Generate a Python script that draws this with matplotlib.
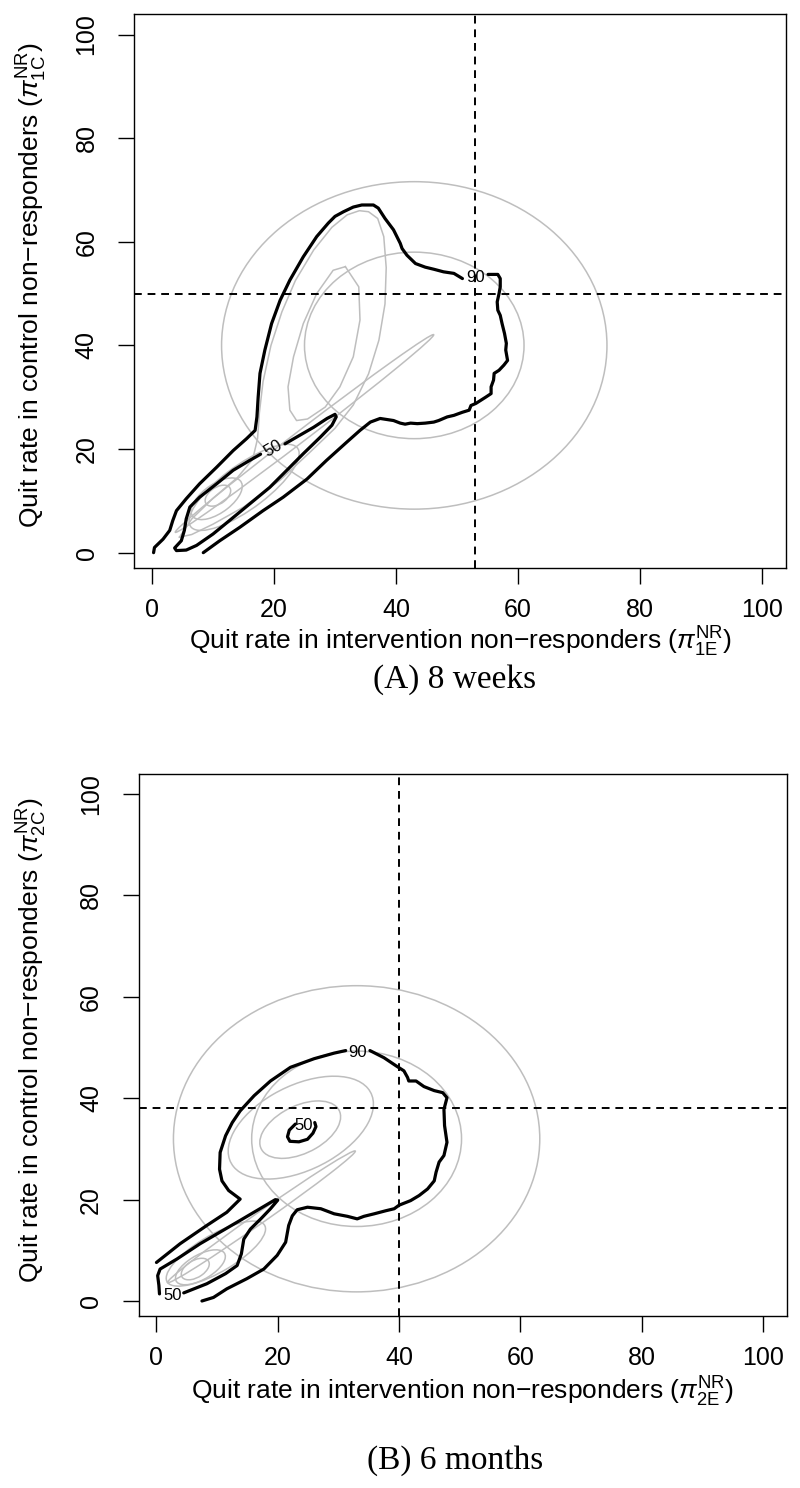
import numpy as np
import matplotlib.pyplot as plt
from matplotlib.patches import Ellipse

plt.rcParams['font.family'] = ['Liberation Sans', 'DejaVu Sans']
plt.rcParams['mathtext.fontset'] = 'custom'
plt.rcParams['mathtext.rm'] = 'Liberation Sans'
plt.rcParams['mathtext.it'] = 'Liberation Sans:italic'

# ---------------- panel A: 8 weeks ----------------
a_ref_x = 53
a_ref_y = 50

# 90% contour, split at its label
a90_1 = [(0.25, 0.0), (0.4, 1.0), (1.8, 2.6), (2.9, 4.3), (3.4, 6.2), (4.0, 8.1),
         (5.6, 10.4), (7.8, 13.3), (10.6, 16.5), (13.3, 19.7), (15.5, 22.0),
         (16.9, 23.6), (17.2, 26.2), (17.4, 30.0), (17.7, 34.6), (18.5, 39.1),
         (19.6, 44.2), (21.0, 48.7), (22.6, 52.6), (24.8, 57.1), (27.0, 61.0),
         (28.9, 63.6), (30.0, 64.9), (31.4, 65.8), (33.0, 66.7), (34.4, 67.1),
         (36.3, 67.1), (37.1, 66.5), (38.2, 64.5), (39.6, 62.3), (40.7, 59.7),
         (41.0, 58.7), (41.8, 57.4), (43.2, 55.8), (44.8, 55.1), (46.2, 54.7),
         (47.8, 54.2), (49.5, 53.9), (50.9, 52.9)]
a90_2 = [(55.1, 53.7), (56.7, 53.7), (57.1, 52.9), (57.1, 51.3), (56.9, 50.0),
         (56.6, 48.4), (56.7, 46.8), (57.1, 45.8), (57.4, 44.2), (57.8, 42.3),
         (58.1, 40.4), (58.0, 39.1), (58.3, 37.1), (57.7, 36.2), (56.9, 35.2),
         (56.1, 34.6), (56.0, 33.3), (55.6, 32.0), (55.6, 30.7), (54.7, 30.0),
         (53.9, 29.4), (53.1, 28.8), (52.3, 28.4), (52.0, 27.5), (50.9, 27.1),
         (49.5, 26.5), (48.4, 26.2), (47.0, 25.5), (46.2, 25.2), (44.8, 25.0),
         (43.5, 24.9), (42.4, 25.0), (41.5, 24.8), (40.7, 25.0), (39.6, 25.5),
         (37.4, 25.9), (35.8, 25.2), (34.1, 23.6), (31.9, 21.3), (28.6, 17.8),
         (25.4, 14.2), (21.5, 10.7), (18.2, 8.1), (14.4, 4.9), (11.1, 2.3),
         (8.4, 0.0)]
# 50% contour, split at its label
a50_1 = [(21.8, 21.0), (23.7, 22.3), (26.5, 24.2), (28.7, 25.9), (30.0, 26.7),
         (30.2, 26.2), (29.5, 24.6), (27.6, 22.3), (24.8, 19.1), (22.1, 15.9),
         (19.3, 12.6), (16.0, 9.4), (12.7, 6.2), (10.0, 3.6), (7.3, 1.4),
         (5.6, 0.5), (4.0, 0.4), (3.7, 0.9), (4.8, 2.3), (5.3, 4.3), (5.6, 6.5),
         (6.2, 8.8), (7.8, 10.7), (10.6, 13.3), (13.3, 15.9), (16.0, 17.8),
         (17.8, 19.0)]
a_labels = [("90", 53.0, 53.1, 0), ("50", 19.9, 20.1, 30)]

# grey reference contours
a_circle_xy = (43, 40)
a_circle_r = [31.6, 18.0]
a_tear = [(4.5, 3.0), (6.5, 6.5), (10.0, 10.5), (14.0, 14.5), (16.5, 18.0),
          (17.3, 22.0), (17.6, 27.0), (18.2, 33.0), (19.5, 40.0), (21.3, 46.5),
          (23.5, 52.5), (26.5, 58.4), (29.5, 62.8), (32.0, 65.2), (34.0, 66.0),
          (35.5, 65.8), (37.0, 64.5), (38.0, 61.0), (38.4, 55.0), (38.2, 48.0),
          (37.2, 41.0), (35.5, 34.5), (33.0, 28.5), (30.0, 24.0), (26.0, 19.5),
          (21.0, 14.0), (15.0, 8.8), (10.0, 5.5), (6.5, 3.5), (4.5, 3.0)]
a_inner = [(31.7, 55.2), (33.9, 51.3), (34.1, 44.9), (33.0, 37.8), (30.8, 32.0),
           (28.4, 28.1), (25.5, 25.8), (23.7, 25.5), (22.6, 27.5), (22.3, 32.0),
           (23.2, 37.8), (24.8, 44.2), (27.0, 50.0), (29.7, 54.5), (31.7, 55.2)]
# centre x, centre y, semi-major, semi-minor, angle
a_ell = [(25.0, 23.0, 28.5, 1.0, 42), (15.1, 12.6, 11.6, 4.0, 42),
         (10.6, 10.4, 5.2, 2.6, 43), (10.8, 11.0, 2.5, 1.5, 43)]

# ---------------- panel B: 6 months ----------------
b_ref_x = 40
b_ref_y = 38

b90_1 = [(0.0, 7.6), (3.9, 11.3), (8.3, 14.9), (11.6, 17.5), (13.8, 20.1),
         (11.9, 21.8), (10.8, 23.7), (10.4, 26.0), (10.5, 29.3), (11.4, 32.6),
         (12.5, 35.2), (13.8, 37.5), (16.1, 40.5), (18.8, 43.4), (22.1, 46.1),
         (26.0, 47.8), (29.3, 48.9), (31.2, 49.4)]
b90_2 = [(35.2, 49.4), (37.5, 48.0), (39.5, 46.4), (40.8, 45.4), (41.4, 44.1),
         (41.6, 43.4), (42.8, 43.4), (44.1, 42.3), (45.8, 41.5), (47.2, 41.1),
         (47.9, 40.1), (47.4, 37.8), (47.5, 34.6), (47.9, 31.3), (47.4, 28.7),
         (46.6, 27.4), (46.1, 25.4), (45.8, 23.7), (44.7, 22.1), (43.3, 20.8),
         (41.9, 19.8), (40.0, 18.9), (39.2, 18.2), (37.8, 17.8), (35.9, 17.2),
         (34.2, 16.7), (33.1, 16.2), (31.5, 16.7), (29.3, 17.2), (27.1, 18.2),
         (24.9, 18.5), (23.2, 18.0), (22.4, 16.8), (21.8, 14.9), (21.3, 11.6),
         (19.9, 9.0), (17.7, 6.3), (14.9, 4.4), (11.6, 2.4), (9.4, 0.7),
         (7.5, 0.0)]
b50_1 = [(4.5, 1.6), (8.3, 3.4), (11.4, 5.4), (13.3, 7.0), (14.0, 9.3),
         (14.4, 12.2), (15.5, 14.2), (17.2, 16.2), (18.8, 18.2), (20.0, 19.9),
         (19.6, 20.0), (17.2, 18.3), (13.8, 15.9), (10.5, 13.6), (7.2, 11.3),
         (3.4, 8.3), (0.6, 6.3), (0.2, 5.0), (0.4, 3.1), (0.5, 1.4)]
b50_2 = [(22.9, 34.9), (21.9, 33.7), (21.6, 32.4), (22.0, 31.5), (23.5, 31.4),
         (24.9, 31.9), (25.8, 33.1), (26.3, 34.4), (26.1, 35.2)]
b_labels = [("90", 33.2, 49.1, 0), ("50", 24.3, 34.7, 0), ("50", 2.6, 1.1, 0)]

b_circle_xy = (33, 32)
b_circle_r = [30.2, 17.3]
b_ell = [(23.8, 34.2, 13.5, 8.0, 35), (23.7, 33.8, 7.5, 4.5, 35),
         (17.3, 16.6, 20.2, 1.0, 40), (9.8, 9.35, 9.8, 3.5, 36),
         (7.25, 6.65, 4.85, 2.3, 37), (6.4, 6.3, 2.7, 1.6, 40)]

lims = (-2.96, 103.96)
ticks = [0, 20, 40, 60, 80, 100]
grey = '#bebebe'

fig = plt.figure(figsize=(8, 14.88), dpi=100)


def panel(rect, black, tear, inner, cxy, radii, ells, labels, rx, ry):
    ax = fig.add_axes(rect)
    for r in radii:
        ax.add_patch(Ellipse(cxy, 2 * r, 2 * r, fill=False, ec=grey, lw=1.1))
    for cx, cy, a, b, ang in ells:
        ax.add_patch(Ellipse((cx, cy), 2 * a, 2 * b, angle=ang, fill=False,
                             ec=grey, lw=1.1))
    for pts in (tear, inner):
        if pts:
            p = np.array(pts)
            ax.plot(p[:, 0], p[:, 1], color=grey, lw=1.1)
    for pts in black:
        p = np.array(pts)
        ax.plot(p[:, 0], p[:, 1], color='black', lw=2.3,
                solid_joinstyle='round', solid_capstyle='round')
    for txt, x, y, rot in labels:
        ax.text(x, y, txt, fontsize=12, ha='center', va='center', rotation=rot)
    ax.axvline(rx, color='black', lw=1.4, ls=(0, (4, 3)))
    ax.axhline(ry, color='black', lw=1.4, ls=(0, (4, 3)))
    ax.set_xlim(lims)
    ax.set_ylim(lims)
    ax.set_xticks(ticks)
    ax.set_yticks(ticks)
    ax.tick_params(direction='out', length=11.5, width=1, labelsize=18)
    ax.tick_params(axis='x', pad=10)
    ax.tick_params(axis='y', pad=14)
    for lab in ax.get_yticklabels():
        lab.set_rotation(90)
        lab.set_va('center')
    for s in ax.spines.values():
        s.set_linewidth(1.0)
    return ax


W, H = 800.0, 1488.0
axA = panel([134 / W, 1 - 568 / H, 652 / W, 554 / H],
            [a90_1, a90_2, a50_1], a_tear, a_inner, a_circle_xy, a_circle_r,
            a_ell, a_labels, a_ref_x, a_ref_y)
axB = panel([138.5 / W, 1 - 1316 / H, 648.5 / W, 542 / H],
            [b90_1, b90_2, b50_1, b50_2], None, None, b_circle_xy, b_circle_r,
            b_ell, b_labels, b_ref_x, b_ref_y)

fig.text(460 / W, 1 - 650 / H,
         'Quit rate in intervention non\u2212responders ($\\pi^{\\mathrm{NR}}_{\\mathrm{1E}}$)',
         fontsize=19, ha='center', va='baseline')
fig.text(32 / W, 1 - 285 / H,
         'Quit rate in control non\u2212responders ($\\pi^{\\mathrm{NR}}_{\\mathrm{1C}}$)',
         fontsize=19, ha='center', va='center', rotation=90)
fig.text(455 / W, 1 - 688 / H, '(A) 8 weeks', fontsize=24,
         family='Liberation Serif', ha='center', va='baseline')

fig.text(462 / W, 1 - 1400 / H,
         'Quit rate in intervention non\u2212responders ($\\pi^{\\mathrm{NR}}_{\\mathrm{2E}}$)',
         fontsize=19, ha='center', va='baseline')
fig.text(32 / W, 1 - 1040 / H,
         'Quit rate in control non\u2212responders ($\\pi^{\\mathrm{NR}}_{\\mathrm{2C}}$)',
         fontsize=19, ha='center', va='center', rotation=90)
fig.text(455 / W, 1 - 1469 / H, '(B) 6 months', fontsize=24,
         family='Liberation Serif', ha='center', va='baseline')

fig.savefig('out.png', dpi=100)
